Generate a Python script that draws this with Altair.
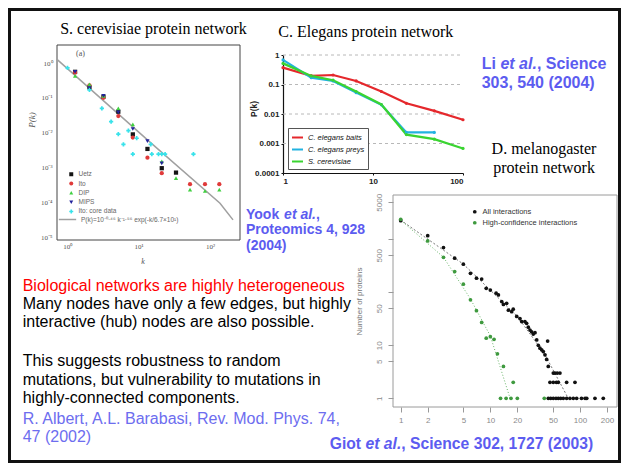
import altair as alt
import pandas as pd

W, H = 613, 455   # chart canvas (page is 629x471 with 8px margins)
M = 8             # page margin: reference page pixels minus M = chart pixels

SANS = "Liberation Sans"
SERIF = "Liberation Serif"
BLUE = "#5c5cf0"
BLUE_LIGHT = "#6d6def"

# ---------------- Panel A: S. cerevisiae ----------------
A_TITLE = "S. cerevisiae protein network"
A_SERIES = ["Uetz", "Ito", "DIP", "MIPS", "Ito: core data"]
A_COLORS = ["#141414", "#e03a3a", "#40d040", "#22229c", "#38e2ea"]
A_SHAPES = ["square", "circle", "triangle-up", "triangle-down", "cross"]
UETZ_K = [1.29, 2.05, 3.22, 5.2, 8.3, 13.3, 21.1, 33.4]
UETZ_P = [0.56, 0.20, 0.108, 0.040, 0.0089, 0.0034, 0.00095, 0.00071]
ITO_K = [1.29, 2.05, 3.22, 5.2, 8.3, 13.3, 21.1, 52.5, 85, 135]
ITO_P = [0.53, 0.23, 0.10, 0.030, 0.0072, 0.0019, 0.00068, 0.00033, 0.00033, 0.00033]
DIP_K = [1.29, 2.05, 3.22, 5.2, 8.3, 21.1, 33.4, 52.5, 85, 135]
DIP_P = [0.43, 0.244, 0.113, 0.050, 0.0173, 0.0015, 0.00049, 0.00023, 0.00021, 0.00023]
MIPS_K = [1.29, 2.05, 3.22, 5.2, 8.3, 13.3, 21.1]
MIPS_P = [0.56, 0.19, 0.115, 0.038, 0.0127, 0.0057, 0.0013]
CORE_K = [1.01, 2.05, 3.06, 4.12, 5.2, 6.13, 7.2, 8.3, 9.4, 14.8, 15.3, 19.0, 21.1, 23.5, 58.6]
CORE_P = [0.73, 0.17, 0.050, 0.0206, 0.0091, 0.0046, 0.0114, 0.0024, 0.0069, 0.0046,
          0.0024, 0.0024, 0.0024, 0.0024, 0.0024]
A_FIT_LABEL = "P(k)=10⁻⁰·⁴⁶ k⁻¹·⁵⁶ exp(-k/6.7×10¹)"
A_FIT_K = [0.72, 13.3, 138, 210]
A_FIT_P = [1.27, 0.0062, 9.3e-5, 3.1e-5]
A_XDOMAIN = [0.72, 263]
A_YDOMAIN = [8.2e-6, 3.3]
A_XTICKS = [1, 10, 100]
A_XTICKLABELS = ["10⁰", "10¹", "10²"]
A_YTICKS = [1e-5, 1e-4, 1e-3, 1e-2, 1e-1, 1]
A_YTICKLABELS = ["10⁻⁵", "10⁻⁴", "10⁻³", "10⁻²", "10⁻¹", "10⁰"]

# ---------------- Panel B: C. elegans ----------------
B_TITLE = "C. Elegans protein network"
B_SERIES = ["C. elegans baits", "C. elegans preys", "S. cerevisiae"]
B_COLORS = ["#e5282c", "#22b2e0", "#3ad431"]
BAITS_K = [1, 2.06, 3.6, 6.5, 12.4, 23.5, 48, 100]
BAITS_P = [0.373, 0.195, 0.21, 0.132, 0.058, 0.023, 0.0128, 0.0064]
PREYS_K = [1, 2.06, 3.6, 6.5, 12.4, 23.5, 48]
PREYS_P = [0.68, 0.171, 0.132, 0.053, 0.0204, 0.00237, 0.00237]
SCER_K = [1, 2.06, 3.6, 6.5, 12.4, 23.5, 48, 100]
SCER_P = [0.52, 0.195, 0.14, 0.058, 0.021, 0.0020, 0.0014, 0.00068]
B_XDOMAIN = [1, 100]
B_YDOMAIN = [0.0001, 1]
B_GRID = [1, 0.1, 0.01, 0.001]
B_XTICKS = [1, 10, 100]
B_XTICKLABELS = ["1", "10", "100"]
B_YTICKS = [0.0001, 0.001, 0.01, 0.1, 1]
B_YTICKLABELS = ["0.0001", "0.001", "0.01", "0.1", "1"]

# ---------------- Panel C: D. melanogaster ----------------
C_TITLE = ["D. melanogaster", "protein network"]
C_SERIES = ["All interactions", "High-confidence interactions"]
C_COLORS = ["#111111", "#3f9a3f"]
C_ALL_K = [1, 2, 3, 4, 5, 6, 7, 8, 9, 10, 11.6, 12.3, 13.4, 14, 15.2, 15.9, 17.3, 18, 19.7,
           21.4, 22.4, 24.3, 25.4, 26.5, 27.7, 28.9, 30.1, 31.5, 32.9, 34.3, 35.8, 37.4, 39,
           40.7, 42.5, 44.3, 43.6, 50.4, 52.6, 55.8, 59.8, 46.3, 50.4, 54.6, 57.3, 71, 88,
           44.3, 47.1, 50.4, 54, 57.3, 60.9, 65.2, 71, 77.3, 84.3, 91.9, 104, 114, 119, 147, 182]
C_ALL_N = [2250, 1170, 700, 440, 340, 228, 185, 178, 119, 110, 96, 89, 67, 59, 62, 46, 43, 48, 35,
           32, 28, 28, 26, 22, 19.4, 18, 16.3, 17.3, 12.6, 10, 8.8, 8.2, 7.6,
           6.6, 5.4, 4, 12, 3, 3, 3, 3, 2, 2, 2, 2, 2, 2,
           1, 1, 1, 1, 1, 1, 1, 1, 1, 1, 1, 1, 1, 1, 1, 1]
C_HC_K = [1, 2, 3, 4, 5, 6, 7, 8, 9, 10, 11, 12, 14, 18, 13, 15, 17, 20, 40]
C_HC_N = [2380, 930, 457, 246, 142, 72, 45, 27, 13.6, 14.5, 13, 6.9, 4, 2, 1, 1, 1, 1, 1]
C_FIT_ALL_K = [1, 5, 10, 20, 40, 74]
C_FIT_ALL_N = [2300, 340, 110, 35, 7, 1]
C_FIT_HC_K = [1, 3, 6, 10, 16.6]
C_FIT_HC_N = [2300, 460, 75, 15, 1]
C_XDOMAIN = [0.82, 259]
C_YDOMAIN = [0.685, 6855]
C_XTICKS = [1, 2, 5, 10, 20, 50, 100, 200]
C_XTICKLABELS = ["1", "2", "5", "10", "20", "50", "100", "200"]
C_YTICKS = [1, 5, 10, 50, 100, 500, 1000, 5000]
C_YTICKLABELS = ["1", "5", "10", "50", "", "500", "", "5000"]
C_YTITLE = "Number of proteins"

# ---------------- Slide text ----------------
RED_LINE = "Biological networks are highly heterogeneous"
BODY_1 = ["Many nodes have only a few edges, but highly",
          "interactive (hub) nodes are also possible."]
BODY_2 = ["This suggests robustness to random",
          "mutations, but vulnerability to mutations in",
          "highly-connected components."]
ALBERT = ["R. Albert, A.L. Barabasi, Rev. Mod. Phys. 74,", "47 (2002)"]
LI_1 = ["Li ", "et al.", ", Science"]
LI_2 = "303, 540 (2004)"
YOOK_1 = ["Yook ", "et al.", ","]
YOOK_2 = ["Proteomics 4, 928", "(2004)"]
GIOT = ["Giot ", "et al.", ", Science 302, 1727 (2003)"]


def label_expr(values, labels):
    expr = "''"
    for v, lab in reversed(list(zip(values, labels))):
        expr = f"abs(datum.value / {v!r} - 1) < 1e-6 ? '{lab}' : ({expr})"
    return expr


def text_mark(text, x, y, size=16, color="black", font=SANS, weight="normal",
              style="normal", align="left", baseline="alphabetic", line_height=18.5, angle=0):
    return alt.Chart(pd.DataFrame({"t": [text]})).mark_text(
        align=align, baseline=baseline, font=font, fontSize=size, fontWeight=weight,
        fontStyle=style, color=color, lineBreak="\n", lineHeight=line_height, angle=angle
    ).encode(text="t:N", x=alt.value(x - M), y=alt.value(y - M))


def long_df(names, ks, vs, key):
    rows = []
    for name, kk, vv in zip(names, ks, vs):
        rows += [{"k": a, "v": b, key: name} for a, b in zip(kk, vv)]
    return pd.DataFrame(rows)


def frame_df(xd, yd):
    return pd.DataFrame({"x": [xd[0]], "x2": [xd[1]], "y": [yd[0]], "y2": [yd[1]]})


# ======== Panel A ========
A_LEFT, A_RIGHT, A_BOTTOM, A_TOP = 57, 240, 240, 45
xA = alt.Scale(type="log", domain=A_XDOMAIN, range=[A_LEFT - M, A_RIGHT - M], nice=False)
yA = alt.Scale(type="log", domain=A_YDOMAIN, range=[A_BOTTOM - M, A_TOP - M], nice=False)
axA_x = alt.Axis(orient="bottom", offset=(A_BOTTOM - M) - H, values=A_XTICKS,
                 labelExpr=label_expr(A_XTICKS, A_XTICKLABELS), title=None, grid=False,
                 domain=False, ticks=False, labelFont=SERIF, labelFontSize=7,
                 labelColor="#555", labelPadding=2)
axA_y = alt.Axis(orient="left", offset=-(A_LEFT - M), values=A_YTICKS,
                 labelExpr=label_expr(A_YTICKS, A_YTICKLABELS), title=None, grid=False,
                 domain=False, ticks=False, labelFont=SERIF, labelFontSize=7,
                 labelColor="#555", labelPadding=5)
dfA = long_df(A_SERIES, [UETZ_K, ITO_K, DIP_K, MIPS_K, CORE_K],
              [UETZ_P, ITO_P, DIP_P, MIPS_P, CORE_P], "sA")
legA = alt.Legend(orient="none", legendX=60, legendY=163, title=None, labelFont=SANS,
                  labelFontSize=6.5, labelColor="#666", symbolSize=16, rowPadding=2.3,
                  padding=0, labelOffset=4)
frameA = alt.Chart(frame_df(A_XDOMAIN, A_YDOMAIN)).mark_rect(
    fillOpacity=0, stroke="#444", strokeWidth=1).encode(
    x=alt.X("x:Q", scale=xA, axis=axA_x), x2="x2:Q",
    y=alt.Y("y:Q", scale=yA, axis=axA_y), y2="y2:Q")
fitA = alt.Chart(pd.DataFrame({"k": A_FIT_K, "v": A_FIT_P, "fit": A_FIT_LABEL})).mark_line(
    strokeWidth=1.5).encode(
    x=alt.X("k:Q", scale=xA, axis=axA_x), y=alt.Y("v:Q", scale=yA, axis=axA_y),
    stroke=alt.Stroke("fit:N", scale=alt.Scale(domain=[A_FIT_LABEL], range=["#a0a0a0"]),
                      legend=alt.Legend(orient="none", legendX=50, legendY=202, title=None,
                                        labelFont=SANS, labelFontSize=6.5, labelColor="#666",
                                        symbolSize=300, symbolStrokeWidth=1.5, padding=0)))
pointsA = alt.Chart(dfA).mark_point(filled=True, size=18, opacity=1).encode(
    x=alt.X("k:Q", scale=xA, axis=axA_x), y=alt.Y("v:Q", scale=yA, axis=axA_y),
    color=alt.Color("sA:N", scale=alt.Scale(domain=A_SERIES, range=A_COLORS), legend=legA),
    shape=alt.Shape("sA:N", scale=alt.Scale(domain=A_SERIES, range=A_SHAPES), legend=legA))
panelA = alt.layer(frameA, fitA, pointsA)

# ======== Panel B ========
B_LEFT, B_RIGHT, B_BOTTOM, B_TOP = 283, 463, 173, 55
xB = alt.Scale(type="log", domain=B_XDOMAIN, range=[B_LEFT - M, B_RIGHT - M], nice=False)
yB = alt.Scale(type="log", domain=B_YDOMAIN, range=[B_BOTTOM - M, B_TOP - M], nice=False)
axB_common = dict(title=None, grid=False, domainColor="#111", domainWidth=1.2, tickColor="#111",
                  tickSize=2, labelFont=SANS, labelFontSize=8, labelFontWeight="bold",
                  labelColor="#222", labelPadding=2)
axB_x = alt.Axis(orient="bottom", offset=(B_BOTTOM - M) - H, values=B_XTICKS,
                 labelExpr=label_expr(B_XTICKS, B_XTICKLABELS), **axB_common)
axB_y = alt.Axis(orient="left", offset=-(B_LEFT - M), values=B_YTICKS,
                 labelExpr=label_expr(B_YTICKS, B_YTICKLABELS), **axB_common)
gridB = alt.Chart(pd.DataFrame({"v": B_GRID, "k": B_XDOMAIN[0], "k2": B_XDOMAIN[1]})).mark_rule(
    strokeDash=[3, 3], color="#b8b8b8", strokeWidth=1).encode(
    x=alt.X("k:Q", scale=xB, axis=axB_x), x2="k2:Q", y=alt.Y("v:Q", scale=yB, axis=axB_y))
dfB = long_df(B_SERIES, [BAITS_K, PREYS_K, SCER_K], [BAITS_P, PREYS_P, SCER_P], "sB")
legB = alt.Legend(orient="none", legendX=288 - M, legendY=128 - M, title=None,
                  strokeColor="#555", fillColor="white", padding=3, labelFont=SANS,
                  labelFontSize=7.5, labelFontStyle="italic", labelColor="#111",
                  symbolType="stroke", symbolStrokeWidth=2, symbolSize=120, rowPadding=1)
linesB = alt.Chart(dfB).mark_line(strokeWidth=2.2, point=alt.OverlayMarkDef(filled=True, size=10)).encode(
    x=alt.X("k:Q", scale=xB, axis=axB_x), y=alt.Y("v:Q", scale=yB, axis=axB_y),
    color=alt.Color("sB:N", scale=alt.Scale(domain=B_SERIES, range=B_COLORS), legend=legB))
panelB = alt.layer(gridB, linesB)

# ======== Panel C ========
C_LEFT, C_RIGHT, C_BOTTOM, C_TOP = 393, 617, 407, 195
xC = alt.Scale(type="log", domain=C_XDOMAIN, range=[C_LEFT - M, C_RIGHT - M], nice=False)
yC = alt.Scale(type="log", domain=C_YDOMAIN, range=[C_BOTTOM - M, C_TOP - M], nice=False)
axC_x = alt.Axis(orient="bottom", offset=(C_BOTTOM - M) - H, values=C_XTICKS,
                 labelExpr=label_expr(C_XTICKS, C_XTICKLABELS), title=None, grid=False,
                 domain=False, tickColor="#999", tickSize=5, labelFont=SANS, labelFontSize=8,
                 labelColor="#8a8a8a", labelPadding=4)
axC_y = alt.Axis(orient="left", offset=-(C_LEFT - M), values=C_YTICKS,
                 labelExpr=label_expr(C_YTICKS, C_YTICKLABELS), labelAngle=270,
                 title=C_YTITLE, titleFont=SANS, titleFontSize=8, titleFontWeight="normal",
                 titleColor="#777", titlePadding=12, grid=False, domain=False,
                 tickColor="#999", tickSize=5, labelFont=SANS, labelFontSize=8,
                 labelColor="#8a8a8a", labelPadding=5)
frameC = alt.Chart(frame_df(C_XDOMAIN, C_YDOMAIN)).mark_rect(
    fillOpacity=0, stroke="#9a9a9a", strokeWidth=1).encode(
    x=alt.X("x:Q", scale=xC, axis=axC_x), x2="x2:Q",
    y=alt.Y("y:Q", scale=yC, axis=axC_y), y2="y2:Q")
fitC1 = alt.Chart(pd.DataFrame({"k": C_FIT_ALL_K, "v": C_FIT_ALL_N})).mark_line(
    strokeDash=[2, 2], strokeWidth=1, color="#777").encode(
    x=alt.X("k:Q", scale=xC, axis=axC_x), y=alt.Y("v:Q", scale=yC, axis=axC_y))
fitC2 = alt.Chart(pd.DataFrame({"k": C_FIT_HC_K, "v": C_FIT_HC_N})).mark_line(
    strokeDash=[1, 2], strokeWidth=1, color="#6ab56a").encode(
    x=alt.X("k:Q", scale=xC, axis=axC_x), y=alt.Y("v:Q", scale=yC, axis=axC_y))
dfC = long_df(C_SERIES, [C_ALL_K, C_HC_K], [C_ALL_N, C_HC_N], "sC")
legC = alt.Legend(orient="none", legendX=471 - M, legendY=208 - M, title=None, padding=0,
                  labelFont=SANS, labelFontSize=7.5, labelColor="#333", symbolSize=14,
                  symbolType="circle", rowPadding=2)
pointsC = alt.Chart(dfC).mark_circle(size=14, opacity=1).encode(
    x=alt.X("k:Q", scale=xC, axis=axC_x), y=alt.Y("v:Q", scale=yC, axis=axC_y),
    color=alt.Color("sC:N", scale=alt.Scale(domain=C_SERIES, range=C_COLORS), legend=legC))
panelC = alt.layer(frameC, fitC1, fitC2, pointsC)

# ======== Text annotations ========
texts = [
    text_mark(A_TITLE, 153.5, 34, font=SERIF, align="center"),
    text_mark(B_TITLE, 278.3, 36.5, font=SERIF),
    text_mark("\n".join(C_TITLE), 544, 154, font=SERIF, align="center", line_height=18.5),
    text_mark("(a)", 76, 56, size=8, font=SERIF, color="#555"),
    text_mark("P(k)", 32, 120, size=9, font=SERIF, style="italic", color="#555",
              align="center", baseline="middle", angle=270),
    text_mark("k", 143, 264, size=8, font=SERIF, style="italic", color="#555", align="center"),
    text_mark("P(k)", 254, 109, size=8.5, weight="bold", color="#222",
              align="center", baseline="middle", angle=270),
    # Li et al.
    text_mark(LI_1[0], 481.7, 69, weight="bold", color=BLUE),
    text_mark(LI_1[1], 481.7 + 18.7, 69, weight="bold", style="italic", color=BLUE),
    text_mark(LI_1[2], 481.7 + 55.2, 69, weight="bold", color=BLUE),
    text_mark(LI_2, 481.7, 87.5, weight="bold", color=BLUE),
    # Yook et al.
    text_mark(YOOK_1[0], 246, 218.5, size=14, weight="bold", color=BLUE),
    text_mark(YOOK_1[1], 246 + 38.1, 218.5, size=14, weight="bold", style="italic", color=BLUE),
    text_mark(YOOK_1[2], 246 + 70, 218.5, size=14, weight="bold", color=BLUE),
    text_mark("\n".join(YOOK_2), 246, 234, size=14, weight="bold", color=BLUE, line_height=15.5),
    # Giot et al.
    text_mark(GIOT[0], 329.7, 448.5, size=15.7, weight="bold", color=BLUE),
    text_mark(GIOT[1], 329.7 + 35.8, 448.5, size=15.7, weight="bold", style="italic", color=BLUE),
    text_mark(GIOT[2], 329.7 + 71.6, 448.5, size=15.7, weight="bold", color=BLUE),
    # Body text
    text_mark(RED_LINE, 22.7, 290.5, color="#ff0000"),
    text_mark("\n".join(BODY_1), 22.7, 309, color="black", line_height=18.4),
    text_mark("\n".join(BODY_2), 22.7, 366, color="black", line_height=18.6),
    text_mark("\n".join(ALBERT), 22.7, 423.5, color=BLUE_LIGHT, line_height=18.6),
]

border = alt.Chart(pd.DataFrame({"a": [0]})).mark_rect(
    fillOpacity=0, stroke="#111", strokeWidth=3).encode(
    x=alt.value(1.5), x2=alt.value(W - 1.5), y=alt.value(1.5), y2=alt.value(H - 1.5))

chart = alt.layer(panelA, panelB, panelC, *texts, border).resolve_scale(
    x="independent", y="independent", color="independent", shape="independent",
    stroke="independent"
).properties(
    width=W, height=H, padding=0, background="white",
    autosize=alt.AutoSizeParams(type="none")
).configure_view(strokeWidth=0)

chart.save("out.html", embed_options={"renderer": "svg", "actions": False})
